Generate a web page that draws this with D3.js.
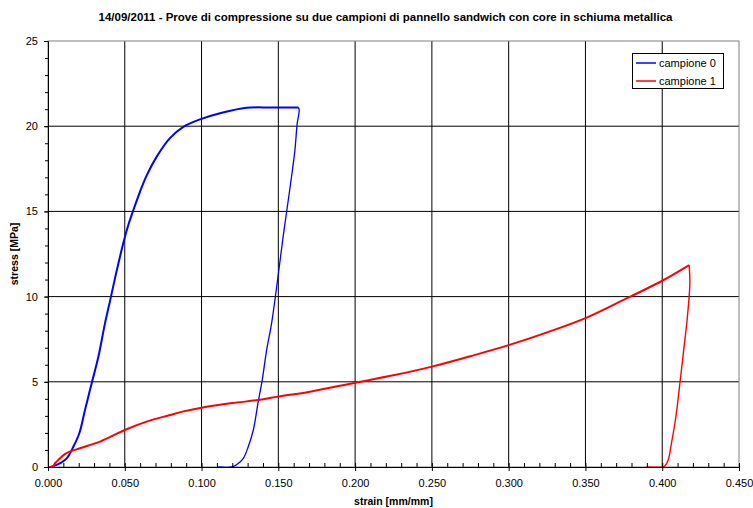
<!DOCTYPE html>
<html>
<head>
<meta charset="utf-8">
<script src="https://cdn.jsdelivr.net/npm/d3@7/dist/d3.min.js"></script>
<style>
  html, body { margin: 0; padding: 0; background: #fff; }
  svg { display: block; font-family: "Liberation Sans", Arial, sans-serif; }
</style>
</head>
<body>
<svg id="chart" width="753" height="508"></svg>
<script>
// Asse delle deformazioni e delle tensioni
const strainTicks = [0, 0.05, 0.10, 0.15, 0.20, 0.25, 0.30, 0.35, 0.40, 0.45];
const stressTicks = [0, 5, 10, 15, 20, 25];

// Campione 0 - tratto di carico
const c0LoadStrain = [0, 0.0013, 0.0056, 0.0122, 0.0165, 0.0204, 0.0241, 0.0284, 0.0328, 0.0371,
  0.0404, 0.0447, 0.0495, 0.0523, 0.0556, 0.0599, 0.0642, 0.0707, 0.0794, 0.0879,
  0.099, 0.112, 0.1294, 0.145, 0.163];
const c0LoadStress = [0, 0, 0.12, 0.51, 1.19, 1.98, 3.35, 4.9, 6.47, 8.43,
  9.75, 11.5, 13.3, 14.2, 15.08, 16.15, 17.1, 18.2, 19.3, 19.95,
  20.4, 20.76, 21.08, 21.1, 21.1];

// Campione 0 - tratto di scarico
const c0UnloadStrain = [0.163, 0.1636, 0.1623, 0.1608, 0.158, 0.1554, 0.1528, 0.1495, 0.1456, 0.1424,
  0.1395, 0.1369, 0.1337, 0.1304, 0.1272, 0.1228, 0.1196, 0.1109];
const c0UnloadStress = [21.1, 20.95, 20.17, 18.6, 16.65, 14.98, 13.3, 10.97, 8.43, 6.87,
  5.1, 3.83, 2.17, 1.19, 0.51, 0.13, 0, 0];

// Campione 1 - tratto di carico
const c1LoadStrain = [0, 0.003, 0.0046, 0.0067, 0.0078, 0.011, 0.0143, 0.0208, 0.0339, 0.05,
  0.0642, 0.0794, 0.0875, 0.1, 0.12, 0.137, 0.15, 0.1706, 0.2, 0.225,
  0.25, 0.275, 0.3, 0.325, 0.35, 0.3724, 0.4, 0.4175];
const c1LoadStress = [0, 0.02, 0.22, 0.42, 0.51, 0.76, 0.9, 1.1, 1.49, 2.17,
  2.66, 3.05, 3.25, 3.48, 3.75, 3.93, 4.13, 4.42, 4.95, 5.38,
  5.89, 6.5, 7.15, 7.9, 8.74, 9.7, 10.93, 11.85];

// Campione 1 - tratto di scarico
const c1UnloadStrain = [0.4175, 0.418, 0.4164, 0.414, 0.4115, 0.4089, 0.406, 0.4039, 0.4017, 0.4, 0.3898];
const c1UnloadStress = [11.85, 10.78, 8.82, 6.87, 4.91, 2.95, 1.39, 0.41, 0.06, 0, 0];

const seriesNames = ["campione 0", "campione 1"];
const seriesColors = ["#0000ff", "#ff0000"];

const titleText = "14/09/2011 - Prove di compressione su due campioni di pannello sandwich con core in schiuma metallica";
const xTitle = "strain [mm/mm]";
const yTitle = "stress [MPa]";

// Layout
const plot = { left: 48, right: 739, top: 41, bottom: 467 };
const svg = d3.select("#chart");

const x = d3.scaleLinear().domain([0, 0.45]).range([plot.left, plot.right]);
const y = d3.scaleLinear().domain([0, 25]).range([plot.bottom, plot.top]);

// Griglia
const grid = svg.append("g");
grid.selectAll("line.v")
  .data(strainTicks.slice(1, -1))
  .join("line")
  .attr("x1", d => x(d)).attr("x2", d => x(d))
  .attr("y1", plot.top).attr("y2", plot.bottom)
  .attr("stroke", "#000").attr("stroke-width", 1);
grid.selectAll("line.h")
  .data(stressTicks.slice(1, -1))
  .join("line")
  .attr("x1", plot.left).attr("x2", plot.right)
  .attr("y1", d => y(d)).attr("y2", d => y(d))
  .attr("stroke", "#000").attr("stroke-width", 1);

// Cornice dell'area del grafico
svg.append("rect")
  .attr("x", plot.left).attr("y", plot.top)
  .attr("width", plot.right - plot.left).attr("height", plot.bottom - plot.top)
  .attr("fill", "none").attr("stroke", "#808080").attr("stroke-width", 1);

// Curve
const line = d3.line()
  .x(d => x(d[0])).y(d => y(d[1]))
  .curve(d3.curveCatmullRom.alpha(0.5));
const zip = (a, b) => a.map((v, i) => [v, b[i]]);

const curves = [
  { pts: zip(c0LoadStrain, c0LoadStress), color: seriesColors[0], w: 2 },
  { pts: zip(c0UnloadStrain, c0UnloadStress), color: seriesColors[0], w: 1.3 },
  { pts: zip(c1LoadStrain, c1LoadStress), color: seriesColors[1], w: 2 },
  { pts: zip(c1UnloadStrain, c1UnloadStress), color: seriesColors[1], w: 1.4 }
];
svg.append("g").selectAll("path")
  .data(curves)
  .join("path")
  .attr("d", d => line(d.pts))
  .attr("fill", "none")
  .attr("stroke", d => d.color)
  .attr("stroke-width", d => d.w)
  .attr("stroke-linejoin", "round");

// Assi
const fmtX = d3.format(".3f");
const xAxis = svg.append("g")
  .attr("transform", `translate(0,${plot.bottom})`)
  .call(d3.axisBottom(x).tickValues(strainTicks).tickFormat(fmtX).tickSizeInner(4).tickSizeOuter(0).tickPadding(8));
const xMinor = svg.append("g")
  .attr("transform", `translate(0,${plot.bottom})`)
  .call(d3.axisBottom(x).tickValues(d3.range(0, 46).map(i => i / 100)).tickFormat("").tickSizeInner(-4).tickSizeOuter(0));

const yAxis = svg.append("g")
  .attr("transform", `translate(${plot.left},0)`)
  .call(d3.axisLeft(y).tickValues(stressTicks).tickFormat(d3.format("d")).tickSizeInner(4).tickSizeOuter(0).tickPadding(6));
const yMinor = svg.append("g")
  .attr("transform", `translate(${plot.left},0)`)
  .call(d3.axisLeft(y).tickValues(d3.range(0, 26)).tickFormat("").tickSizeInner(3).tickSizeOuter(0));

[xAxis, xMinor, yAxis, yMinor].forEach(g => {
  g.select(".domain").attr("stroke", "#000").attr("stroke-width", 1);
  g.selectAll(".tick line").attr("stroke", "#000");
  g.selectAll("text")
    .attr("fill", "#000")
    .style("font-family", "'Liberation Sans', Arial, sans-serif")
    .style("font-size", "11px");
});

// Titoli
svg.append("text")
  .attr("x", (plot.left + plot.right) / 2 - 8).attr("y", 21)
  .attr("text-anchor", "middle")
  .style("font-size", "11.5px").style("font-weight", "bold")
  .text(titleText);

svg.append("text")
  .attr("x", (plot.left + plot.right) / 2).attr("y", 505)
  .attr("text-anchor", "middle")
  .style("font-size", "10.5px").style("font-weight", "bold")
  .text(xTitle);

svg.append("text")
  .attr("transform", `translate(18,${(plot.top + plot.bottom) / 2}) rotate(-90)`)
  .attr("text-anchor", "middle")
  .style("font-size", "10.5px").style("font-weight", "bold")
  .text(yTitle);

// Legenda
const legend = svg.append("g").attr("transform", "translate(632,53)");
legend.append("rect")
  .attr("x", 0.5).attr("y", 0.5).attr("width", 91).attr("height", 35)
  .attr("fill", "#fff").attr("stroke", "#000").attr("stroke-width", 1);
const items = legend.selectAll("g.item")
  .data(seriesNames)
  .join("g")
  .attr("transform", (d, i) => `translate(0,${10 + i * 18})`);
items.append("line")
  .attr("x1", 4).attr("x2", 24).attr("y1", 0).attr("y2", 0)
  .attr("stroke", (d, i) => seriesColors[i]).attr("stroke-width", 1.5);
items.append("text")
  .attr("x", 27).attr("y", 4)
  .style("font-size", "11px")
  .text(d => d);
</script>
</body>
</html>
